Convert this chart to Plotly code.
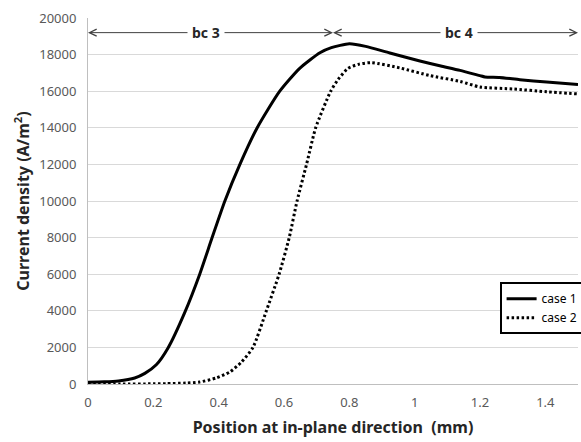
import plotly.graph_objects as go

# ---- data ----
x_case1 = [0, 0.05, 0.093, 0.143, 0.174, 0.209, 0.245, 0.296, 0.342, 0.38, 0.419,
           0.465, 0.518, 0.587, 0.648, 0.71, 0.745, 0.80, 0.85, 0.924, 1.016, 1.08,
           1.139, 1.2, 1.215, 1.26, 1.322, 1.404, 1.5]
y_case1 = [100, 120, 170, 330, 580, 1050, 1970, 3900, 6000, 8000, 10000,
           12000, 14000, 16000, 17250, 18100, 18380, 18590, 18450, 18085, 17650, 17380,
           17140, 16850, 16780, 16750, 16630, 16500, 16370]

x_case2 = [0, 0.1, 0.2, 0.24, 0.3, 0.342, 0.393, 0.434, 0.47, 0.505, 0.546, 0.585,
           0.616, 0.64, 0.669, 0.697, 0.743, 0.766, 0.796, 0.83, 0.868, 0.955, 1.047,
           1.139, 1.2, 1.302, 1.404, 1.5]
y_case2 = [0, 0, 10, 20, 50, 110, 330, 655, 1200, 2000, 4000, 6000,
           8000, 10000, 12000, 14000, 16000, 16650, 17250, 17480, 17560, 17270, 16850,
           16535, 16230, 16120, 15970, 15850]

series_names = ["case 1", "case 2"]

# boundary-condition regions
bc_bounds = [0, 0.75, 1.5]
bc_labels = ["bc 3", "bc 4"]
bc_label_x = [0.362, 1.135]
bc_y = 19200

x_ticks = [0, 0.2, 0.4, 0.6, 0.8, 1.0, 1.2, 1.4]
y_ticks = list(range(0, 20001, 2000))

FONT = "Noto Sans"

fig = go.Figure()
fig.add_trace(go.Scatter(x=x_case1, y=y_case1, mode="lines", name=series_names[0],
                         line=dict(color="black", width=3, shape="spline", smoothing=0.6)))
fig.add_trace(go.Scatter(x=x_case2, y=y_case2, mode="lines", name=series_names[1],
                         line=dict(color="black", width=3, dash="2.5px,2.5px",
                                   shape="spline", smoothing=0.6)))

annotations = []
for i, lab in enumerate(bc_labels):
    x0, x1 = bc_bounds[i], bc_bounds[i + 1]
    xm = bc_label_x[i]
    for xe in (x0, x1):
        annotations.append(dict(x=xe, y=bc_y, ax=xm, ay=bc_y, xref="x", yref="y",
                                axref="x", ayref="y", text="", showarrow=True,
                                arrowhead=5, arrowsize=1.4, arrowwidth=1,
                                arrowcolor="#404040"))
    annotations.append(dict(x=xm, y=bc_y, xref="x", yref="y", text="<b>%s</b>" % lab,
                            showarrow=False, bgcolor="white", borderpad=4,
                            font=dict(family=FONT, size=14, color="#262626")))

fig.update_layout(
    width=581, height=442,
    margin=dict(l=88, r=3, t=18, b=58, autoexpand=False),
    paper_bgcolor="white", plot_bgcolor="white",
    font=dict(family=FONT, size=12, color="#595959"),
    showlegend=True,
    legend=dict(x=0.84, y=0.278, xanchor="left", yanchor="top",
                bordercolor="black", borderwidth=2, bgcolor="white",
                font=dict(family=FONT, size=12, color="black"),
                tracegroupgap=0),
    annotations=annotations,
    xaxis=dict(range=[0, 1.5], tickvals=x_ticks, showgrid=False, zeroline=False,
               showline=True, linecolor="#bfbfbf", linewidth=1,
               ticks="outside", ticklen=6, tickcolor="rgba(0,0,0,0)",
               tickfont=dict(family=FONT, size=13, color="#595959"),
               title=dict(text="<b>Position at in-plane direction&nbsp; (mm)</b>",
                          font=dict(family=FONT, size=16, color="#262626"), standoff=12)),
    yaxis=dict(range=[0, 20000], tickvals=y_ticks, tickformat="d", showgrid=True,
               gridcolor="#d9d9d9", gridwidth=1, zeroline=False,
               showline=True, linecolor="#bfbfbf", linewidth=1,
               ticks="outside", ticklen=8, tickcolor="rgba(0,0,0,0)",
               tickfont=dict(family=FONT, size=13, color="#595959"),
               title=dict(text="<b>Current density (A/m<sup>2</sup>)</b>",
                          font=dict(family=FONT, size=16, color="#262626"), standoff=5)),
)

fig.write_html("out.html")
